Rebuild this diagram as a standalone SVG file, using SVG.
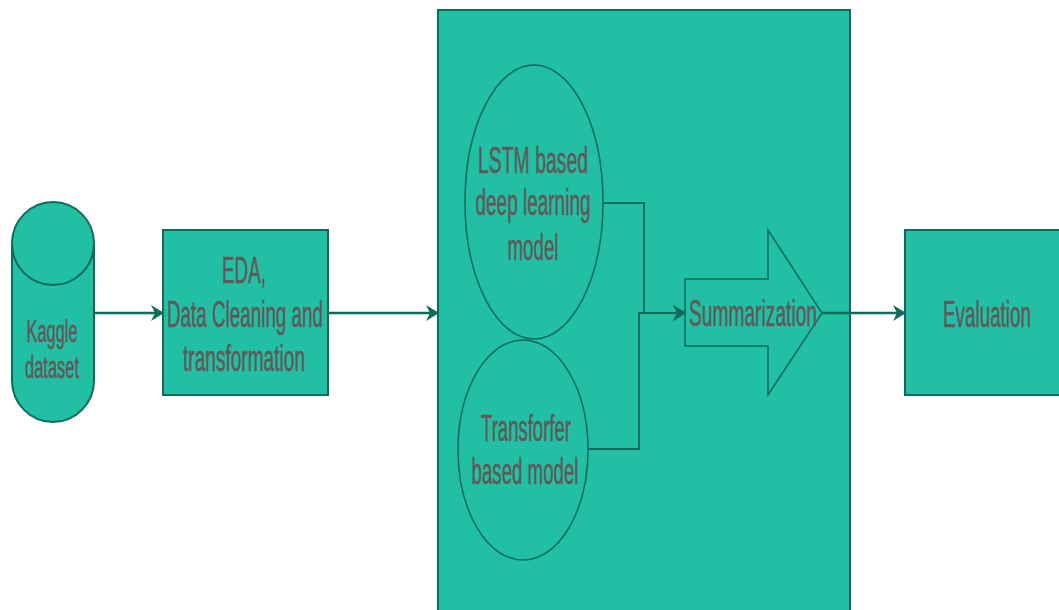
<svg xmlns="http://www.w3.org/2000/svg" width="1059" height="610" viewBox="0 0 1059 610">
<defs>
<style>
.shape{fill:#21BFA3;stroke:#0E6B59;stroke-width:2}
.thin{fill:#21BFA3;stroke:#0E6B59;stroke-width:1.5}
.conn{fill:none;stroke:#0F6B5B;stroke-width:2.5}
.conn2{fill:none;stroke:#0F6B5B;stroke-width:2}
.lbl{font-family:"Liberation Sans",Arial,sans-serif;font-size:36px;fill:#625858;stroke:#625858;stroke-width:0.5;text-anchor:middle}
.sm{font-size:31px}
</style>
<marker id="arr" markerUnits="userSpaceOnUse" markerWidth="16" markerHeight="18" refX="12" refY="9" orient="auto">
<path d="M0,1 L13,9 L0,17 L4,9 Z" fill="#0F6B5B"/>
</marker>
</defs>
<rect width="1059" height="610" fill="#ffffff"/>
<g id="container">
<rect class="shape" x="438" y="10" width="412" height="620"/>
</g>
<g id="kaggle">
<path class="shape" d="M12,243.5 A41,41.5 0 0 1 94,243.5 L94,380.5 A41,41.5 0 0 1 12,380.5 Z"/>
<path class="shape" fill="none" d="M12,243.5 A41,41.5 0 0 0 94,243.5"/>
<text class="lbl sm" x="52" y="342" textLength="51" lengthAdjust="spacingAndGlyphs">Kaggle</text>
<text class="lbl sm" x="52" y="378" textLength="54" lengthAdjust="spacingAndGlyphs">dataset</text>
</g>
<g id="eda">
<rect class="shape" x="163" y="230" width="165" height="165"/>
<text class="lbl" x="244" y="283" textLength="44" lengthAdjust="spacingAndGlyphs">EDA,</text>
<text class="lbl" x="245" y="327" textLength="156" lengthAdjust="spacingAndGlyphs">Data Cleaning and</text>
<text class="lbl" x="244" y="371" textLength="122" lengthAdjust="spacingAndGlyphs">transformation</text>
</g>
<g id="lstm">
<ellipse class="thin" cx="534" cy="202" rx="69" ry="137"/>
<text class="lbl" x="533" y="173" textLength="110" lengthAdjust="spacingAndGlyphs">LSTM based</text>
<text class="lbl" x="533" y="215" textLength="115" lengthAdjust="spacingAndGlyphs">deep learning</text>
<text class="lbl" x="533" y="260" textLength="51" lengthAdjust="spacingAndGlyphs">model</text>
</g>
<g id="transformer">
<ellipse class="thin" cx="523" cy="450" rx="65" ry="110"/>
<text class="lbl" x="526" y="441" textLength="90" lengthAdjust="spacingAndGlyphs">Transforfer</text>
<text class="lbl" x="525" y="484" textLength="107" lengthAdjust="spacingAndGlyphs">based model</text>
</g>
<g id="summarization">
<path class="thin" d="M685,279 L768,279 L768,230 L822,313 L768,395 L768,346 L685,346 Z"/>
<text class="lbl" x="753" y="326" textLength="128" lengthAdjust="spacingAndGlyphs">Summarization</text>
</g>
<g id="evaluation">
<rect class="shape" x="905" y="230" width="170" height="165"/>
<text class="lbl" x="987" y="327" textLength="88" lengthAdjust="spacingAndGlyphs">Evaluation</text>
</g>
<g id="connectors">
<path class="conn" d="M95,313 L163,313" marker-end="url(#arr)"/>
<path class="conn" d="M328,313 L438,313" marker-end="url(#arr)"/>
<path class="conn2" d="M603,203 L644,203 L644,313 L685,313" marker-end="url(#arr)"/>
<path class="conn2" d="M588,449 L639,449 L639,313 L685,313" marker-end="url(#arr)"/>
<path class="conn" d="M822,313 L905,313" marker-end="url(#arr)"/>
</g>
</svg>
